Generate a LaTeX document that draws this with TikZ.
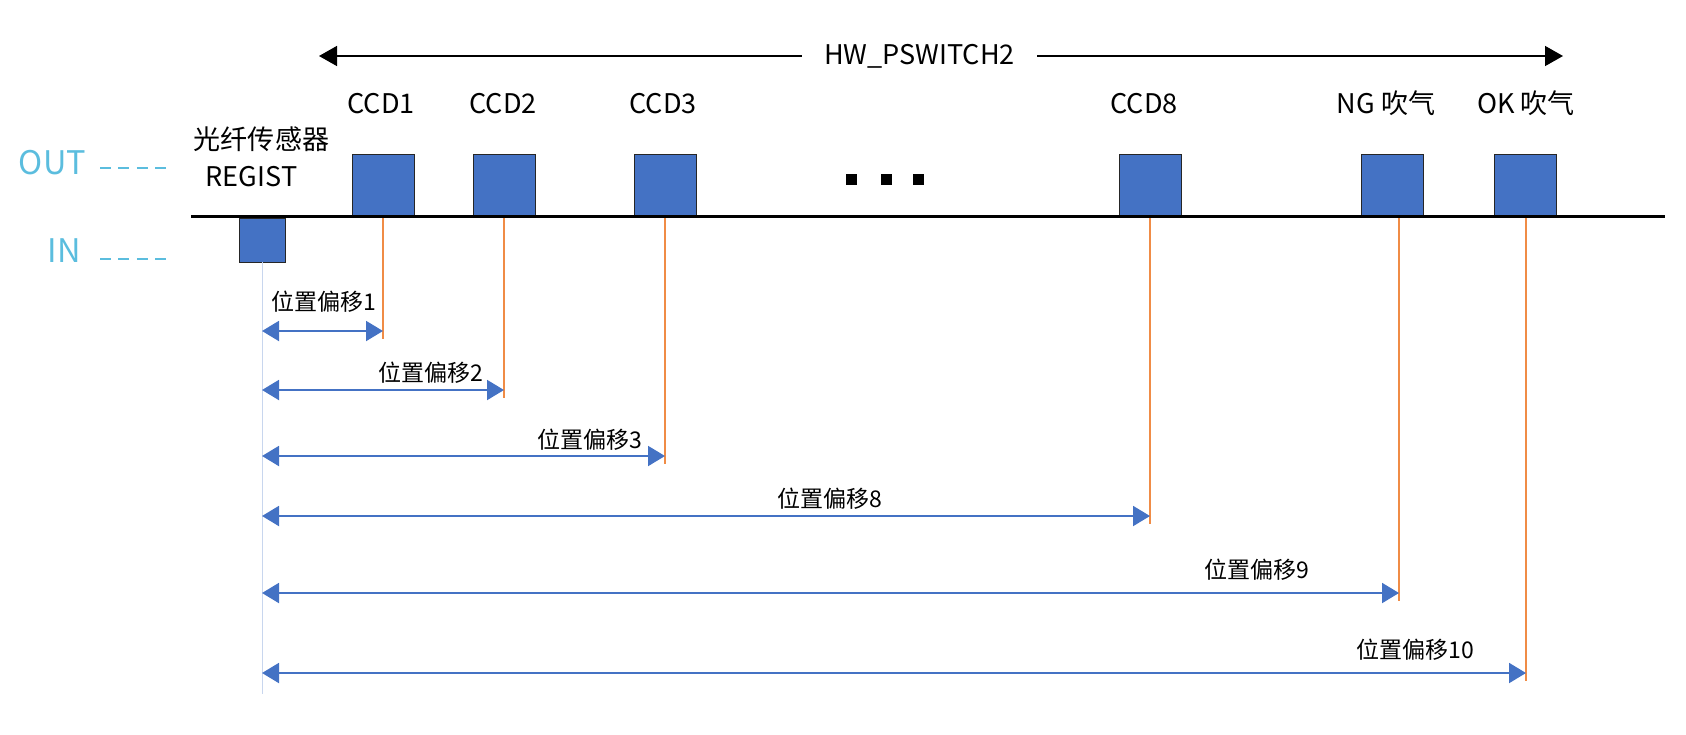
\documentclass[tikz,border=0pt]{standalone}
\usepackage{fontspec}
\setmainfont{Noto Sans CJK SC}
\usetikzlibrary{arrows.meta}

\definecolor{pulseblue}{RGB}{68,114,196}
\definecolor{droporange}{RGB}{240,140,70}
\definecolor{levelcyan}{RGB}{91,189,222}
\definecolor{guideblue}{RGB}{200,214,238}

\begin{document}
\begin{tikzpicture}[x=0.02cm, y=-0.02cm,
    pulse/.style={draw=black!85, line width=0.5pt, fill=pulseblue,
      minimum width=1.24cm, minimum height=1.22cm, inner sep=0pt},
    tag/.style={font=\fontsize{15.4pt}{18pt}\selectfont, inner sep=0pt, anchor=base},
    offtag/.style={font=\fontsize{13.1pt}{16pt}\selectfont, inner sep=0pt, anchor=base},
    level/.style={font=\fontsize{18.5pt}{22pt}\selectfont, text=levelcyan,
      inner sep=0pt, anchor=base},
    leveldash/.style={levelcyan, line width=0.04cm, dash pattern=on 0.22cm off 0.15cm},
    drop/.style={droporange, line width=0.03cm},
    span/.style={pulseblue, line width=0.04cm,
      arrows={Triangle[length=0.34cm,width=0.4cm]-Triangle[length=0.34cm,width=0.4cm]}},
  ]
  \useasboundingbox (0,0) rectangle (1686,734);

  % signal levels on the left
  \node[level] (out) at (52.5,174) {OUT};
  \node[level] (in) at (64,262) {IN};
  \coordinate (out dash) at (167,168);
  \coordinate (in dash) at (167,259);
  \draw[leveldash] (100,168) -- (out dash);
  \draw[leveldash] (100,259) -- (in dash);

  % HW_PSWITCH2 range
  \node[tag, inner xsep=0.44cm] (hw) at (919.5,64) {HW\_PSWITCH2};
  \coordinate (hw l) at (319,56);
  \coordinate (hw r) at (1563,56);
  \draw[line width=0.03cm, -{Triangle[length=0.36cm,width=0.4cm]}] (hw.west |- hw l) -- (hw l);
  \draw[line width=0.03cm, -{Triangle[length=0.36cm,width=0.4cm]}] (hw.east |- hw r) -- (hw r);

  % sensor pulse (IN) and its guide line
  \node[pulse, minimum width=0.92cm, minimum height=0.88cm] (reg) at (262,240) {};
  \node[tag, anchor=center] (sensor) at (261.5,139) {光纤传感器};
  \node[tag] (regist) at (251.5,186) {REGIST};
  \coordinate (guide end) at (262,694);
  \draw[guideblue, line width=0.02cm] (reg.south) -- (guide end);

  % output pulses
  \foreach \name/\x/\lx/\lab in {ccd1/383/381/CCD1, ccd2/504.5/503/CCD2,
      ccd3/665/663/CCD3, ccd8/1150.5/1144/CCD8, ng/1392/1386/NG 吹气,
      ok/1525.5/1526/OK 吹气} {
    \node[pulse] (\name) at (\x,184.5) {};
    \node[tag] (\name lab) at (\lx,113) {\lab};
  }
  \foreach \x in {851,886,918}
    \fill (\x-5.5,173.5) rectangle ++(11,11);

  % position offsets
  \foreach \name/\ox/\ay/\tx/\ty/\n in {ccd1/383/331/324/310/1,
      ccd2/504/390/431/381/2, ccd3/665/456/590/448/3,
      ccd8/1150/516/830/507/8, ng/1399/593/1257/578/9,
      ok/1526/673/1415/658/10} {
    \coordinate (\name foot) at (\ox,\ay+8);
    \draw[drop] (\name.south -| \name foot) -- (\name foot);
    \coordinate (start \n) at (262,\ay);
    \coordinate (stop \n) at (\ox,\ay);
    \draw[span] (start \n) -- (stop \n);
    \node[offtag] (off \n) at (\tx,\ty) {位置偏移\n};
  }

  % time line drawn last
  \coordinate (base w) at (191,216.5);
  \coordinate (base e) at (1665,216.5);
  \draw[line width=0.07cm] (base w) -- (base e);
\end{tikzpicture}
\end{document}
